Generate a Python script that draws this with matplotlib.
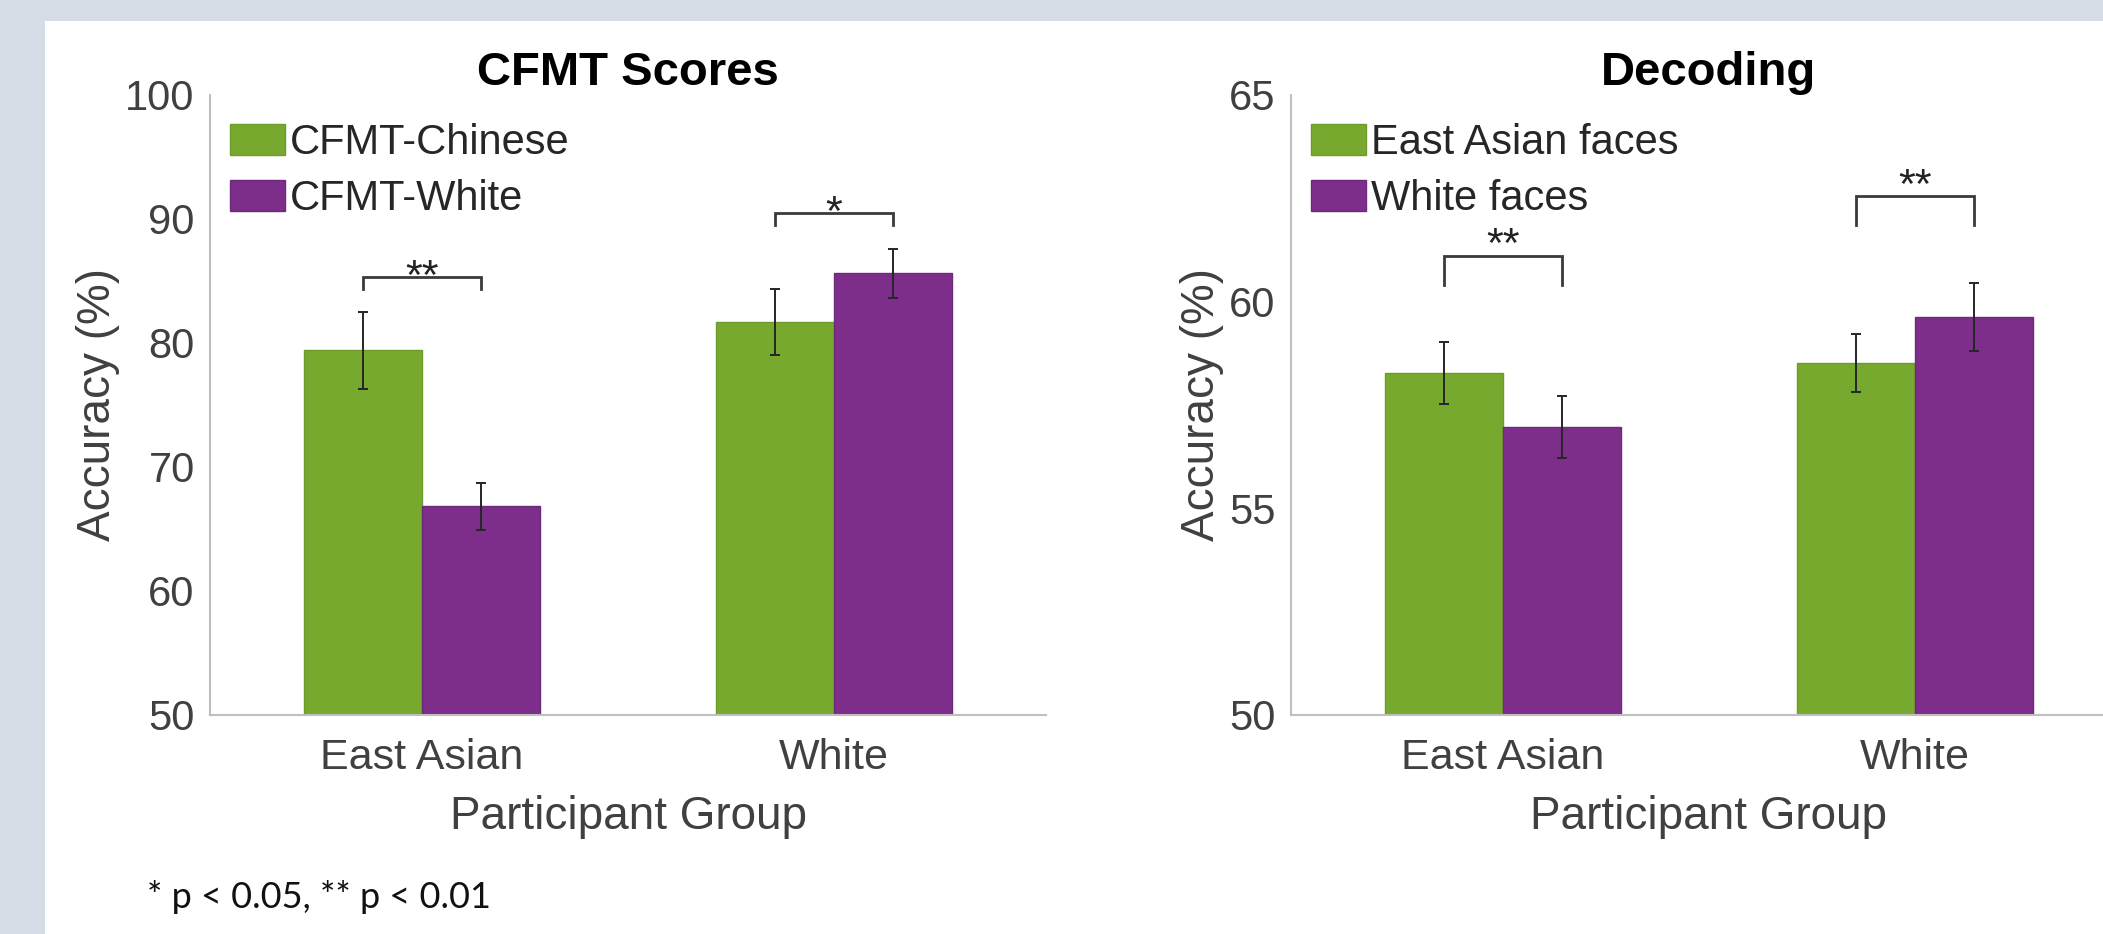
import matplotlib
matplotlib.use('Agg')
import matplotlib.pyplot as plt
from matplotlib.patches import Rectangle
import numpy as np

# data
groups = ['East Asian', 'White']

cfmt_labels = ['CFMT-Chinese', 'CFMT-White']
cfmt_chinese = [79.4, 81.7]
cfmt_chinese_err = [3.1, 2.65]
cfmt_white = [66.8, 85.6]
cfmt_white_err = [1.9, 2.0]
cfmt_sig = ['**', '*']
cfmt_bracket = [85.35, 90.5]

dec_labels = ['East Asian faces', 'White faces']
dec_ea = [58.27, 58.51]
dec_ea_err = [0.75, 0.70]
dec_white = [56.96, 59.62]
dec_white_err = [0.75, 0.82]
dec_sig = ['**', '**']
dec_bracket = [61.1, 62.55]

W, H = 2103, 934
GREEN = '#78A92F'
PURPLE = '#7D2D8A'
TXT = '#404040'
FONT = 'Liberation Sans'


def panel(ax, title, vals1, err1, vals2, err2, labels, sig, brk, leg, star_off, ylim, yticks):
    x = np.arange(1, len(groups) + 1)
    w = 0.287
    ekw = dict(ecolor='#262626', elinewidth=1.4, capsize=3.6, capthick=1.4)
    b1 = ax.bar(x - w/2, vals1, w, color=GREEN, edgecolor='#6E9A2B', linewidth=1,
                yerr=err1, error_kw=ekw, label=labels[0], zorder=2)
    b2 = ax.bar(x + w/2, vals2, w, color=PURPLE, edgecolor='#6E2A7A', linewidth=1,
                yerr=err2, error_kw=ekw, label=labels[1], zorder=2)
    for i in range(len(x)):
        x1, x2 = x[i] - w/2, x[i] + w/2
        ax.plot([x1, x1, x2, x2], [brk[i] - leg, brk[i], brk[i], brk[i] - leg],
                color='#3a3a3a', lw=2.0, zorder=3, solid_joinstyle='miter')
        ax.annotate(sig[i], xy=(x[i], brk[i]), xytext=(0, star_off), textcoords='offset points',
                    ha='center', va='baseline', fontsize=31, color='#222222', family=FONT)
    ax.set_xlim(0.485, 2.515)
    ax.set_ylim(ylim)
    ax.set_yticks(yticks)
    ax.set_xticks(x)
    ax.set_xticklabels(groups)
    ax.tick_params(axis='both', length=0, labelsize=30, labelcolor=TXT)
    ax.tick_params(axis='x', pad=17, labelsize=31)
    ax.tick_params(axis='y', pad=11)
    for t in ax.get_xticklabels() + ax.get_yticklabels():
        t.set_family(FONT)
    for s in ['top', 'right']:
        ax.spines[s].set_visible(False)
    for s in ['left', 'bottom']:
        ax.spines[s].set_color('#BFBFBF')
        ax.spines[s].set_linewidth(1.5)
    ax.set_facecolor('white')
    ax.set_title(title, fontsize=34, fontweight='bold', family=FONT, pad=4)
    ax.set_xlabel('Participant Group', fontsize=33, color=TXT, family=FONT, labelpad=12)
    ax.set_ylabel('Accuracy (%)', fontsize=33, color=TXT, family=FONT)
    ax.legend(handles=[b1, b2], loc='upper left', bbox_to_anchor=(0.024, 0.955),
              frameon=False, prop={'family': FONT, 'size': 30},
              handlelength=1.32, handleheight=0.79, handletextpad=0.12,
              labelspacing=0.39, borderpad=0, borderaxespad=0)
    for t in ax.get_legend().get_texts():
        t.set_color('#262626')


fig = plt.figure(figsize=(W/100, H/100), dpi=100, facecolor='#D6DDE6')
fig.add_artist(Rectangle((45/W, 0), 1, 1 - 21/H, transform=fig.transFigure,
                         facecolor='white', edgecolor='none', zorder=0))

axw = 836/W
axb = (H - 714.5)/H
axh = 619.5/H
ax1 = fig.add_axes([210/W, axb, axw, axh])
ax2 = fig.add_axes([1291/W, axb, axw, axh])

panel(ax1, 'CFMT Scores', cfmt_chinese, cfmt_chinese_err, cfmt_white, cfmt_white_err,
      cfmt_labels, cfmt_sig, cfmt_bracket, 1.0, -9, (50, 100), [50, 60, 70, 80, 90, 100])
panel(ax2, 'Decoding', dec_ea, dec_ea_err, dec_white, dec_white_err,
      dec_labels, dec_sig, dec_bracket, 0.7, -1, (50, 65), [50, 55, 60, 65])

fig.text(147/W, 1 - 908/H, '* p < 0.05, ** p < 0.01', fontsize=26, family='Lato',
         color='#111111', va='baseline', ha='left')

fig.savefig('out.png', dpi=100, facecolor=fig.get_facecolor())
